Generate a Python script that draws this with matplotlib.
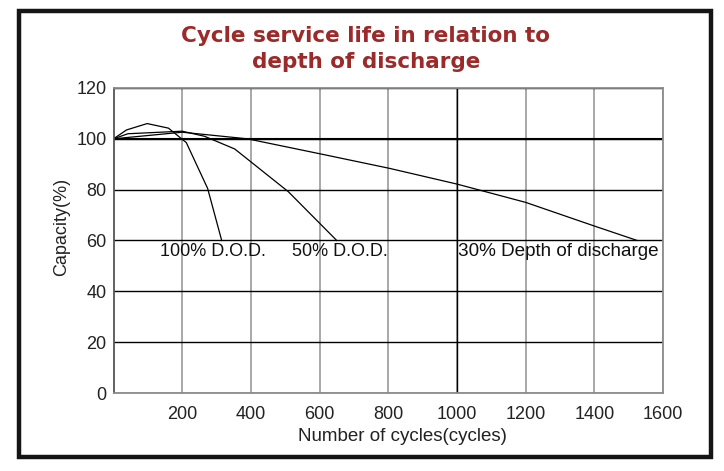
import numpy as np
import matplotlib
matplotlib.use('Agg')
import matplotlib.pyplot as plt
from matplotlib.patches import Rectangle

matplotlib.rcParams['font.family'] = 'sans-serif'
matplotlib.rcParams['font.sans-serif'] = ['Liberation Sans', 'DejaVu Sans']

# curves (cycles, capacity %)
dod100_cycles = [0, 38, 98, 160, 212, 274, 315]
dod100_capacity = [100, 103.5, 106, 104.2, 98.5, 80.5, 60]

dod50_cycles = [0, 42, 200, 265, 353, 509, 650]
dod50_capacity = [100, 102, 103, 101, 96, 79.2, 60]

dod30_cycles = [0, 200, 390, 605, 803, 1000, 1200, 1400, 1525]
dod30_capacity = [100, 102.6, 100, 94, 88.4, 82.2, 75, 65.7, 60]

x_ticks = [200, 400, 600, 800, 1000, 1200, 1400, 1600]
y_ticks = [0, 20, 40, 60, 80, 100, 120]

fig = plt.figure(figsize=(7.24, 4.71), dpi=100)
ax = fig.add_axes([0.1568, 0.1656, 0.7589, 0.6476])

ax.set_xlim(0, 1600)
ax.set_ylim(0, 120)
ax.set_xticks(x_ticks)
ax.set_yticks(y_ticks)

# 网格: 竖线灰色, 横线黑色
ax.grid(axis='x', color='#9a9a9a', linewidth=1.2)
ax.grid(axis='y', color='black', linewidth=1.0)
ax.axvline(1000, color='black', linewidth=1.0, zorder=1.6)
ax.axhline(100, color='black', linewidth=1.5, zorder=1.6)

for side in ['top', 'right', 'bottom']:
    ax.spines[side].set_color('#8c8c8c')
    ax.spines[side].set_linewidth(1.3)
ax.spines['left'].set_color('#555555')
ax.spines['left'].set_linewidth(1.3)

ax.tick_params(length=0, labelsize=13, labelcolor='#222222')
ax.tick_params(axis='x', pad=9)
ax.tick_params(axis='y', pad=5)

ax.plot(dod100_cycles, dod100_capacity, color='black', linewidth=0.9)
ax.plot(dod50_cycles, dod50_capacity, color='black', linewidth=0.9)
ax.plot(dod30_cycles, dod30_capacity, color='black', linewidth=0.9)

ax.text(136, 55.5, '100% D.O.D.', fontsize=13, va='center', ha='left', color='#111111')
ax.text(519, 55.5, '50% D.O.D.', fontsize=13, va='center', ha='left', color='#111111')
ax.text(1003, 55.5, '30% Depth of discharge', fontsize=13.6, va='center', ha='left', color='#111111')

ax.set_xlabel('Number of cycles(cycles)', fontsize=13.5, color='#222222', va='center')
ax.xaxis.set_label_coords(0.525, -0.141)
ax.set_ylabel('Capacity(%)', fontsize=13, color='#222222', va='center')
ax.yaxis.set_label_coords(-0.094, 0.545)

title_color = '#9b2a2a'
fig.text(0.5055, 0.9108, 'Cycle service life in relation to', fontsize=15.5,
         fontweight='bold', family='DejaVu Sans', color=title_color, ha='center', va='baseline')
fig.text(0.5055, 0.8556, 'depth of discharge', fontsize=15.5,
         fontweight='bold', family='DejaVu Sans', color=title_color, ha='center', va='baseline')

# 外框
fig.patches.append(Rectangle((0.0269, 0.0287), 0.9558, 0.9469, transform=fig.transFigure,
                             fill=False, edgecolor='#151515', linewidth=3.2))

fig.savefig('out.png', dpi=100)
